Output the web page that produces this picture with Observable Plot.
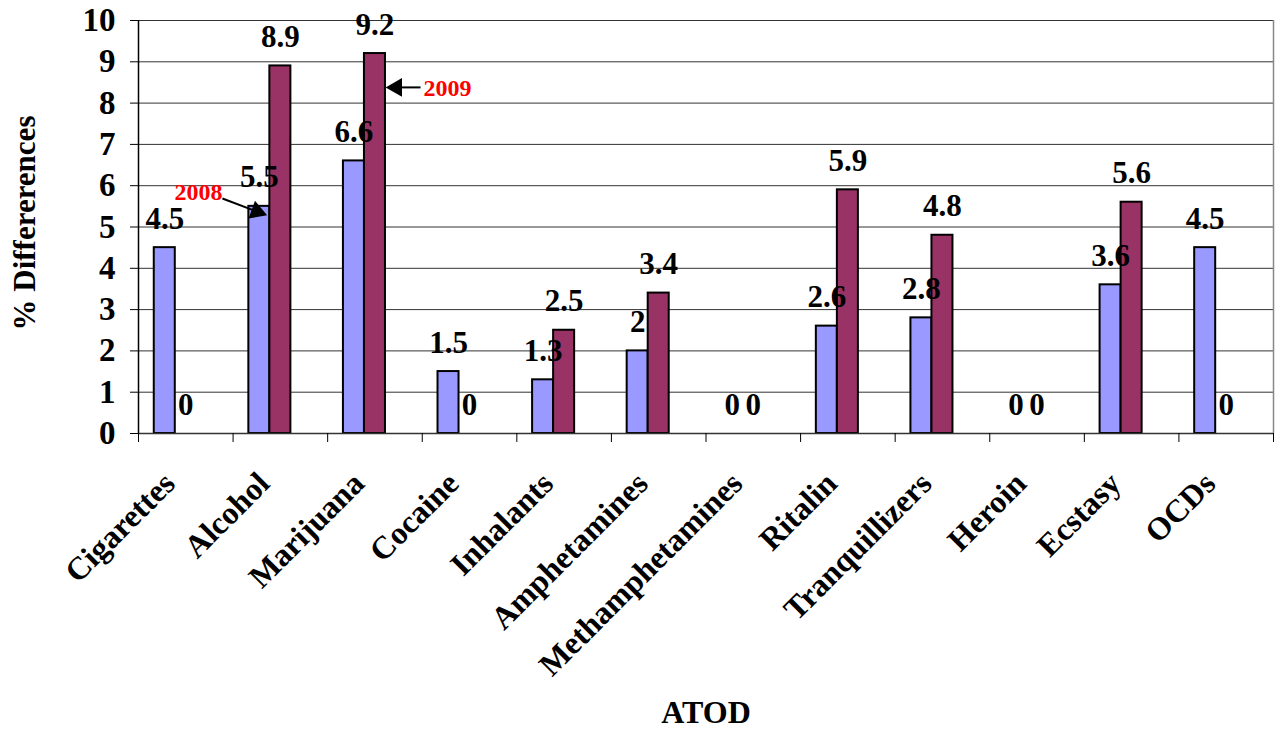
<!DOCTYPE html>
<html><head><meta charset="utf-8">
<script src="https://cdn.jsdelivr.net/npm/d3@7"></script>
<script src="https://cdn.jsdelivr.net/npm/@observablehq/plot@0.6"></script>
<style>body{margin:0;background:#fff}</style>
</head><body><div id="chart"></div>
<script>
const categories = ["Cigarettes","Alcohol","Marijuana","Cocaine","Inhalants","Amphetamines","Methamphetamines","Ritalin","Tranquillizers","Heroin","Ecstasy","OCDs"];
const values2008 = [4.5,5.5,6.6,1.5,1.3,2,0,2.6,2.8,0,3.6,4.5];
const values2009 = [0,8.9,9.2,0,2.5,3.4,0,5.9,4.8,0,5.6,0];
const seriesNames = ["2008","2009"];
const seriesColors = ["#9999FF","#993366"];
const yTicks = [0,1,2,3,4,5,6,7,8,9,10];
const yTitle = "% Differerences";
const xTitle = "ATOD";
// callouts: label, the category/series it points at
const callouts = [
  {label:"2008", cat:"Alcohol", series:0},
  {label:"2009", cat:"Marijuana", series:1}
];

// Excel-like layout: 3 slots per category (third empty), gap = 1/3
const slotsPerCat = 3, gapFrac = 1/3;
const slotW = (1 - gapFrac) / slotsPerCat;
const rows = [];
categories.forEach((c, i) => {
  [values2008, values2009].forEach((vals, s) => {
    const x1 = i + gapFrac/2 + s*slotW;
    rows.push({cat:c, i, s, series:seriesNames[s], v:vals[i], x1, x2:x1+slotW, xc:x1+slotW/2});
  });
});
const find = (cat, s) => rows.find(r => r.cat === cat && r.s === s);
const c08 = find(callouts[0].cat, callouts[0].series);
const c09 = find(callouts[1].cat, callouts[1].series);

const font = "'Liberation Serif','Times New Roman',serif";
const chart = Plot.plot({
  width: 1277, height: 730,
  marginLeft: 138, marginRight: 4, marginTop: 20, marginBottom: 297,
  x: {domain: [0, categories.length], axis: null},
  y: {domain: [0, 10], axis: null},
  color: {domain: seriesNames, range: seriesColors},
  style: {fontFamily: font, fontWeight: "bold", background: "#fff", color: "#000"},
  marks: [
    Plot.ruleY(yTicks.slice(1), {stroke: "#333", strokeWidth: 1}),
    Plot.ruleX([categories.length], {stroke: "#888", strokeWidth: 1.5}),
    Plot.rectY(rows.filter(d => d.v > 0), {x1: "x1", x2: "x2", y: "v", fill: "series", stroke: "#000", strokeWidth: 2}),
    Plot.ruleY([0], {stroke: "#333", strokeWidth: 1.5}),
    Plot.ruleX([0], {stroke: "#000", strokeWidth: 1.5}),
    Plot.axisY({ticks: yTicks, tickSize: 8, tickPadding: 15, fontSize: 33, fontWeight: "bold", label: null, stroke: "#000"}),
    Plot.axisX({ticks: d3.range(0, categories.length + 1), tickSize: 9, tickFormat: () => "", label: null}),
    Plot.text(categories, {x: (d, i) => i + 0.5, y: 0, text: d => d, rotate: -45, textAnchor: "end", lineAnchor: "bottom", dx: -9, dy: 52, fontSize: 32, fontWeight: "bold"}),
    Plot.text(rows, {x: "xc", y: "v", text: d => String(d.v), lineAnchor: "bottom", dy: -19, fontSize: 31, fontWeight: "bold"}),
    Plot.text([yTitle], {frameAnchor: "left", textAnchor: "middle", rotate: -90, dx: -113, dy: -4, fontSize: 31, fontWeight: "bold"}),
    Plot.text([xTitle], {frameAnchor: "bottom", dy: 289, fontSize: 32, fontWeight: "bold"}),
    // callouts
    Plot.text([callouts[0]], {x: c08.x1 - 0.533, y: c08.v + 0.335, text: "label", fill: "#ff0000", fontSize: 24, fontWeight: "bold"}),
    Plot.link([c08], {x1: d => d.x1 - 0.279, y1: d => d.v + 0.19, x2: d => d.x1 + 0.1, y2: d => d.v - 0.14, stroke: "#000", strokeWidth: 2}),
    Plot.dot([c08], {x: d => d.x1 + 0.085, y: d => d.v - 0.125, symbol: "triangle", r: 7, fill: "#000", stroke: "none", rotate: 110}),
    Plot.text([callouts[1]], {x: c09.x2 + 0.656, y: c09.v - 0.85, text: "label", fill: "#ff0000", fontSize: 24, fontWeight: "bold"}),
    Plot.link([c09], {x1: d => d.x2 + 0.371, y1: d => d.v - 0.82, x2: d => d.x2 + 0.1, y2: d => d.v - 0.82, stroke: "#000", strokeWidth: 2}),
    Plot.dot([c09], {x: d => d.x2 + 0.117, y: d => d.v - 0.82, symbol: "triangle", r: 7, fill: "#000", stroke: "none", rotate: -90})
  ]
});
document.getElementById("chart").appendChild(chart);
</script>
</body></html>
